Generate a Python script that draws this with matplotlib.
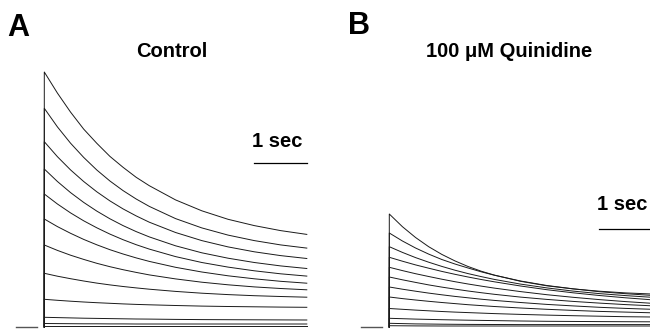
import numpy as np
import matplotlib
matplotlib.use("Agg")
import matplotlib.pyplot as plt

plt.rcParams['font.family'] = ['Liberation Sans', 'DejaVu Sans']

# time points of each sweep (s)
time = [0, 0.25, 0.5, 0.75, 1, 1.25, 1.5, 1.75, 2, 2.5, 3, 3.5, 4, 4.5, 5]
holding_level = 0.0
holding_time = [-0.54, -0.14]

# Current traces (arbitrary units) - Control
control = [
    [255.0, 233.9, 214.9, 197.9, 183.7, 170.6, 159.7, 149.7, 141.3, 127.1, 116.2, 107.7, 101.4, 96.4, 92.6],
    [218.7, 200.1, 183.8, 169.6, 157.0, 146.0, 136.4, 128.0, 120.6, 108.4, 99.1, 91.9, 86.4, 82.1, 78.9],
    [185.3, 170.3, 157.1, 145.5, 135.2, 126.1, 118.1, 111.1, 104.8, 94.5, 86.4, 80.1, 75.2, 71.4, 68.5],
    [158.0, 145.5, 134.4, 124.6, 115.9, 108.2, 101.4, 95.4, 90.1, 81.2, 74.2, 68.8, 64.5, 61.1, 58.5],
    [133.0, 123.0, 114.1, 106.2, 99.2, 92.9, 87.3, 82.3, 77.9, 70.4, 64.5, 59.9, 56.2, 53.2, 50.9],
    [108.0, 100.4, 93.7, 87.6, 82.2, 77.3, 73.0, 69.1, 65.6, 59.7, 55.0, 51.2, 48.2, 45.7, 43.8],
    [82.0, 76.6, 71.8, 67.6, 63.7, 60.3, 57.3, 54.6, 52.1, 48.1, 44.8, 42.2, 40.1, 38.5, 37.2],
    [53.7, 50.8, 48.3, 46.0, 43.9, 42.1, 40.5, 39.1, 37.8, 35.6, 33.8, 32.4, 31.3, 30.5, 29.8],
    [27.7, 26.7, 25.8, 25.0, 24.3, 23.7, 23.1, 22.6, 22.2, 21.5, 20.9, 20.5, 20.2, 19.9, 19.7],
    [9.7, 9.4, 9.1, 8.8, 8.6, 8.4, 8.2, 8.0, 7.9, 7.6, 7.4, 7.3, 7.2, 7.1, 7.0],
    [3.5, 3.4, 3.3, 3.2, 3.2, 3.1, 3.1, 3.0, 3.0, 3.0, 3.0, 3.0, 3.0, 3.0, 3.0],
    [1.0, 1.0, 1.0, 1.0, 1.0, 1.0, 1.0, 1.0, 1.0, 1.0, 1.0, 1.0, 1.0, 1.0, 1.0],
]

# Current traces (arbitrary units) - 100 uM Quinidine
quinidine = [
    [113.0, 100.3, 89.5, 80.3, 72.6, 66.1, 60.5, 55.8, 51.9, 45.7, 41.2, 38.1, 35.8, 34.1, 33.0],
    [94.0, 86.0, 79.0, 72.9, 67.5, 63.0, 59.0, 55.2, 51.8, 46.0, 41.5, 38.2, 35.3, 33.3, 31.6],
    [80.3, 74.6, 69.4, 64.8, 60.6, 56.8, 53.4, 50.4, 47.6, 42.9, 39.1, 35.9, 33.4, 31.4, 29.7],
    [69.7, 65.8, 62.1, 58.8, 55.6, 52.7, 50.0, 47.5, 45.2, 41.0, 37.3, 34.2, 31.5, 29.2, 27.2],
    [59.7, 56.4, 53.3, 50.5, 47.8, 45.3, 43.0, 40.9, 38.9, 35.4, 32.3, 29.7, 27.4, 25.4, 23.7],
    [50.0, 47.2, 44.6, 42.1, 39.9, 37.9, 36.0, 34.3, 32.7, 29.9, 27.6, 25.6, 23.9, 22.4, 21.2],
    [40.0, 37.8, 35.8, 33.9, 32.2, 30.6, 29.2, 27.8, 26.6, 24.5, 22.6, 21.1, 19.7, 18.6, 17.7],
    [30.0, 28.4, 27.0, 25.7, 24.5, 23.4, 22.3, 21.4, 20.5, 19.0, 17.7, 16.6, 15.6, 14.9, 14.2],
    [18.5, 17.7, 16.9, 16.2, 15.5, 14.9, 14.4, 13.9, 13.4, 12.6, 11.9, 11.3, 10.8, 10.3, 10.0],
    [8.7, 8.3, 7.9, 7.6, 7.3, 7.05, 6.8, 6.6, 6.4, 6.0, 5.7, 5.55, 5.4, 5.3, 5.2],
    [3.7, 3.4, 3.1, 2.95, 2.8, 2.7, 2.6, 2.55, 2.5, 2.4, 2.4, 2.4, 2.4, 2.4, 2.4],
    [1.3, 1.2, 1.1, 1.05, 1.0, 1.0, 1.0, 1.0, 1.0, 1.0, 1.0, 1.0, 1.0, 1.0, 1.0],
]

panel_letters = ['A', 'B']
panel_titles = ['Control', '100 \u03bcM Quinidine']
scale_label = '1 sec'
scale_len = 1.0

W, H = 650, 332
fig = plt.figure(figsize=(W / 100, H / 100), dpi=100)

px_per_s = 52.5
xlim = (-0.6, 5.1)
ylim = (-5, 260)
ax_w = (xlim[1] - xlim[0]) * px_per_s
ax_h = (ylim[1] - ylim[0])

def make_axes(x0_pix):
    left = x0_pix + xlim[0] * px_per_s
    ax = fig.add_axes([left / W, 0, ax_w / W, ax_h / H])
    ax.set_xlim(*xlim)
    ax.set_ylim(*ylim)
    ax.axis('off')
    return ax

axA = make_axes(44.3)
axB = make_axes(389.3)

def draw_traces(ax, traces):
    t = np.concatenate([[time[0]], time])
    for tr in traces:
        y = np.concatenate([[holding_level], tr])
        ax.plot(t, y, color='#1a1a1a', lw=0.7, solid_joinstyle='round')
    ax.plot(holding_time, [holding_level, holding_level], color='#555555', lw=1.0)

draw_traces(axA, control)
draw_traces(axB, quinidine)

# scale bars
axA.plot([4.0, 4.0 + scale_len], [163.7, 163.7], color='black', lw=0.9)
axA.text(3.96, 179.7, scale_label, ha='left', va='baseline',
         fontsize=14.5, fontweight='bold')
axB.plot([4.0, 4.0 + scale_len], [97.7, 97.7], color='black', lw=0.9, clip_on=False)
axB.text(3.96, 117.5, scale_label, ha='left', va='baseline',
         fontsize=14.5, fontweight='bold', clip_on=False)

# panel letters and titles
fig.text(7.5 / W, 1 - 36 / H, panel_letters[0], ha='left', va='baseline',
         fontsize=22, fontweight='bold')
fig.text(347.5 / W, 1 - 33.5 / H, panel_letters[1], ha='left', va='baseline',
         fontsize=22, fontweight='bold')
fig.text(171.5 / W, 1 - 56.7 / H, panel_titles[0], ha='center', va='baseline',
         fontsize=14.5, fontweight='bold')
fig.text(509 / W, 1 - 56.7 / H, panel_titles[1], ha='center', va='baseline',
         fontsize=14.5, fontweight='bold')

fig.savefig('out.png', dpi=100)
